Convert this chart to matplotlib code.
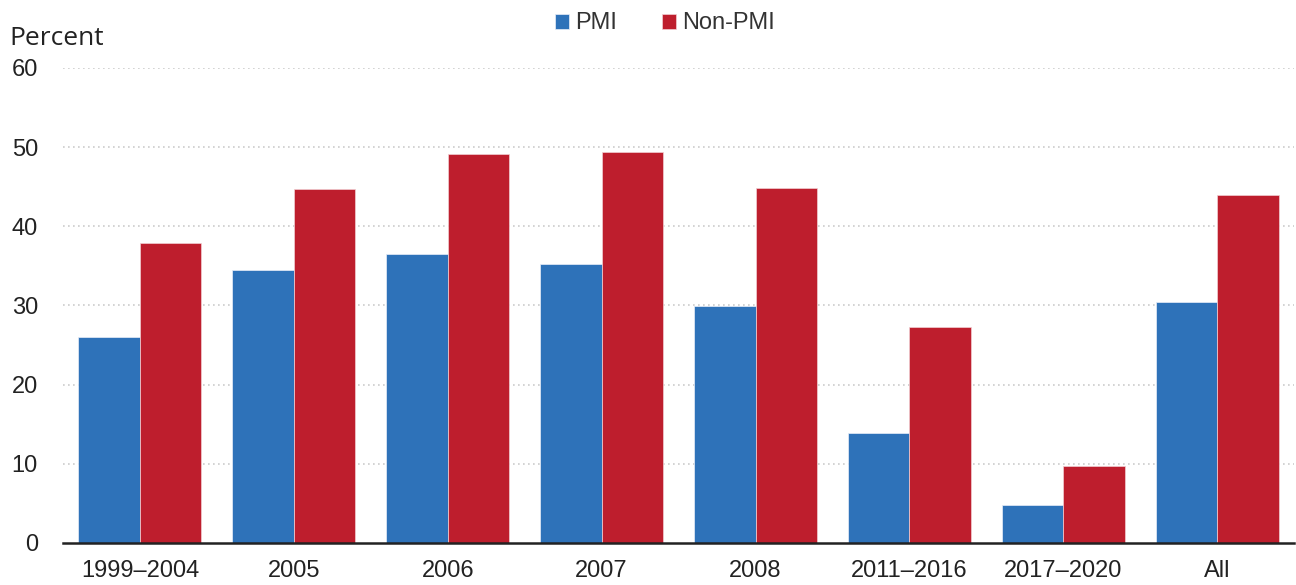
import matplotlib
matplotlib.use("Agg")
import matplotlib.pyplot as plt
import numpy as np

categories = ["1999–2004", "2005", "2006", "2007", "2008", "2011–2016", "2017–2020", "All"]
pmi = [26.0, 34.5, 36.5, 35.2, 29.9, 13.9, 4.8, 30.4]
non_pmi = [37.9, 44.7, 49.1, 49.4, 44.8, 27.3, 9.7, 43.9]
yticks = [0, 10, 20, 30, 40, 50, 60]

blue = "#2E72B9"
red = "#BE1E2D"

fig = plt.figure(figsize=(12.96, 5.85), dpi=100)
ax = fig.add_axes([0.0486, 0.0718, 0.95, 0.812])

x = np.arange(len(categories))
w = 0.4
ax.bar(x - w/2, pmi, width=w, color=blue, label="PMI", edgecolor="#e8eef8", linewidth=0.5, zorder=3)
ax.bar(x + w/2, non_pmi, width=w, color=red, label="Non-PMI", edgecolor="#f2d0d4", linewidth=0.5, zorder=3)

ax.set_xlim(-0.5, len(categories) - 0.5)
ax.set_ylim(0, 60)
ax.set_yticks(yticks)
ax.set_yticklabels([str(v) for v in yticks], family="Liberation Sans", fontsize=17, color="#222222")
ax.set_xticks(x)
ax.set_xticklabels(categories, family="Liberation Sans", fontsize=17, color="#222222")
ax.tick_params(axis="both", length=0)
ax.tick_params(axis="y", pad=18)
ax.tick_params(axis="x", pad=12)

for v in yticks[1:]:
    ax.axhline(v, color="#cccccc", linestyle=(0, (1, 2)), linewidth=1.2, zorder=1)

for s in ["top", "right", "left"]:
    ax.spines[s].set_visible(False)
ax.spines["bottom"].set_color("#222222")
ax.spines["bottom"].set_linewidth(1.8)
ax.spines["bottom"].set_zorder(4)

fig.text(0.007, 0.923, "Percent", family="Open Sans", fontsize=19, color="#222222", ha="left", va="baseline")

leg = fig.legend(loc="upper center", bbox_to_anchor=(0.513, 1.015), ncol=2, frameon=False,
                 prop={"family": "Liberation Sans", "size": 17}, handlelength=0.6, handleheight=0.6,
                 handletextpad=0.25, columnspacing=1.9)
for t in leg.get_texts():
    t.set_color("#333333")

fig.savefig("out.png", dpi=100)
